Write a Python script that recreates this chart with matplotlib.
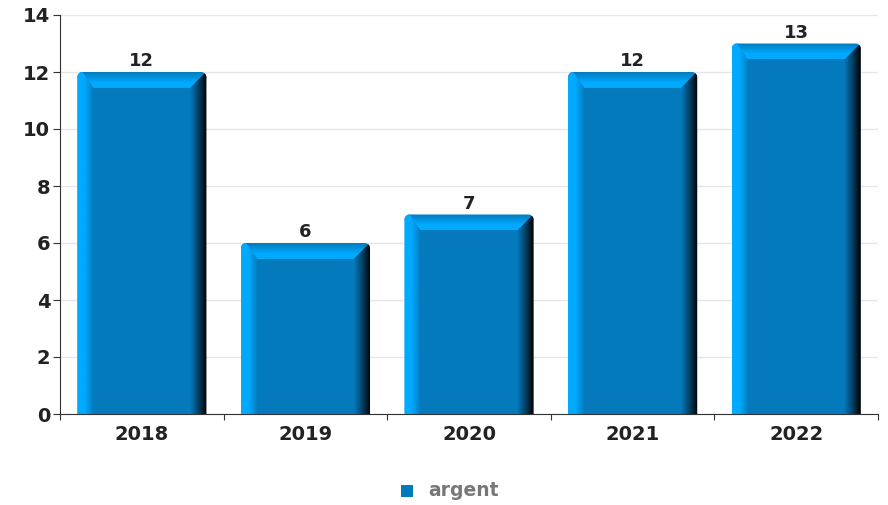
import numpy as np
import matplotlib
matplotlib.use("Agg")
from matplotlib import pyplot as plt
from matplotlib.patches import Polygon, Rectangle
from matplotlib.colors import LinearSegmentedColormap

# - Data
years = ["2018", "2019", "2020", "2021", "2022"]
argent = [12, 6, 7, 12, 13]

# - Style
face = "#0479bb"
light = "#00aaff"
dark = "#000000"
bar_width = 0.79
bevel_x = 0.1     # in category units
bevel_y = 0.56    # in value units
rad_x, rad_y = 0.032, 0.19   # corner radius (~5px) in data units

fig = plt.figure(figsize=(8.88, 5.05), dpi=100)
ax = fig.add_axes([60 / 888, (505 - 414) / 505, 818 / 888, 399 / 505])

ax.set_xlim(0, len(years))
ax.set_ylim(0, 14)

light_cmap = LinearSegmentedColormap.from_list("l", [(0, light), (0.45, light), (1, face)])
top_cmap = LinearSegmentedColormap.from_list("t", [(0, light), (0.35, light), (1, face)])
dark_cmap = LinearSegmentedColormap.from_list("d", [(0, face), (0.45, "#02466e"), (1, dark)])


def arc(cx, cy, a0, a1):
    t = np.radians(np.linspace(a0, a1, 12))
    return list(zip(cx + rad_x * np.cos(t), cy + rad_y * np.sin(t)))


def gradient(ax, pts, cmap, horizontal, extent):
    # Fill a polygon with a linear gradient
    poly = Polygon(pts, closed=True, facecolor="none", edgecolor="none")
    ax.add_patch(poly)
    grad = np.linspace(0, 1, 64)
    img = grad[None, :] if horizontal else grad[::-1][:, None]
    im = ax.imshow(img, cmap=cmap, extent=extent, aspect="auto",
                   interpolation="bilinear", zorder=3, origin="upper")
    im.set_clip_path(poly)


for i, v in enumerate(argent):
    x0 = i + (1 - bar_width) / 2
    x1 = x0 + bar_width
    tl = arc(x0 + rad_x, v - rad_y, 180, 90)
    tr = arc(x1 - rad_x, v - rad_y, 90, 0)
    # Main face (sits under the bevels so no seams show)
    ax.add_patch(Rectangle((x0 + 0.02, 0), bar_width - 0.04, v - 0.2,
                           facecolor=face, edgecolor="none", zorder=2))
    # Top bevel
    gradient(ax, tl + tr + [(x1 - bevel_x, v - bevel_y), (x0 + bevel_x, v - bevel_y)],
             top_cmap, False, (x0, x1, v - bevel_y, v))
    # Left bevel
    gradient(ax, [(x0, 0), (x0 + bevel_x, 0), (x0 + bevel_x, v - bevel_y)] + tl[::-1][:7] + [(x0, v - rad_y)],
             light_cmap, True, (x0, x0 + bevel_x, 0, v))
    # Right bevel
    gradient(ax, [(x1 - bevel_x, 0), (x1, 0), (x1, v - rad_y)] + tr[::-1][:7] + [(x1 - bevel_x, v - bevel_y)],
             dark_cmap, True, (x1 - bevel_x, x1, 0, v))
    # Value label
    ax.text(i + 0.5, v + 0.06, str(v), ha="center", va="bottom",
            fontsize=13, fontweight="bold", color="#222222", zorder=5)

# Axes
ax.set_yticks(range(0, 15, 2))
ax.set_xticks(range(len(years) + 1))
ax.set_xticklabels([])
ax.set_xticks([i + 0.5 for i in range(len(years))], minor=True)
ax.set_xticklabels(years, minor=True)
ax.tick_params(axis="x", which="minor", length=0, pad=8, labelsize=14)
ax.tick_params(axis="x", which="major", length=4, color="#333333")
ax.tick_params(axis="y", length=5, color="#333333", labelsize=14, pad=2)
for lbl in ax.get_yticklabels() + ax.get_xticklabels(minor=True):
    lbl.set_fontweight("bold")
    lbl.set_color("#222222")

ax.grid(axis="y", color="#e6e6e6", linewidth=1)
ax.set_axisbelow(True)
for side in ["top", "right"]:
    ax.spines[side].set_visible(False)
ax.spines["left"].set_color("#333333")
ax.spines["bottom"].set_color("#333333")

# Legend
fig.patches.append(Rectangle((401 / 888, 1 - 497 / 505), 12 / 888, 12 / 505,
                             transform=fig.transFigure, facecolor=face, edgecolor="none"))
fig.text(428 / 888, 1 - 491 / 505, "argent", ha="left", va="center",
         fontsize=13.5, fontweight="bold", color="#777777")

fig.savefig("out.png", dpi=100)
